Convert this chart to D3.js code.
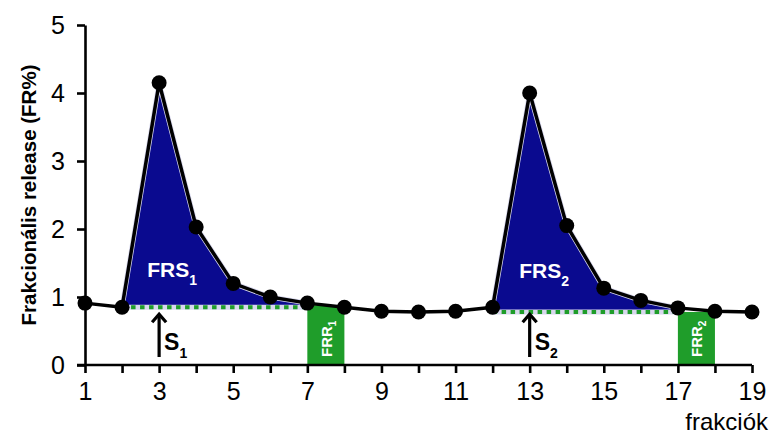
<!DOCTYPE html>
<html>
<head>
<meta charset="utf-8">
<script src="https://cdn.jsdelivr.net/npm/d3@7"></script>
<style>
  html, body { margin: 0; padding: 0; background: #fff; }
  svg { display: block; font-family: "Liberation Sans", Arial, sans-serif; }
</style>
</head>
<body>
<svg id="chart" width="771" height="434"></svg>
<script>
// Fractional release per collected fraction
const fractions = d3.range(1, 20);
const release = [0.91, 0.85, 4.15, 2.03, 1.20, 1.00, 0.91, 0.85, 0.79, 0.78,
                 0.79, 0.85, 4.00, 2.05, 1.13, 0.95, 0.84, 0.79, 0.78];

// Stimulation-evoked release windows (FRS) with their basal levels
const peaks = [
  { label: "FRS", sub: "1", from: 2, to: 7, basal: 0.85, labelAt: 2.68, labelY: 1.3 },
  { label: "FRS", sub: "2", from: 12, to: 17, basal: 0.78, labelAt: 12.72, labelY: 1.28 }
];
// Resting release fractions (FRR)
const resting = [
  { label: "FRR", sub: "1", from: 7, to: 8, level: 0.88 },
  { label: "FRR", sub: "2", from: 17, to: 18, level: 0.78 }
];
// Stimulus markers
const stimuli = [
  { at: 3, label: "S", sub: "1" },
  { at: 13, label: "S", sub: "2" }
];
const yTicks = [0, 1, 2, 3, 4, 5];
const xLabels = [1, 3, 5, 7, 9, 11, 13, 15, 17, 19];

const svg = d3.select("#chart");
const x = d3.scaleLinear().domain([1, 19]).range([85, 752]);
const y = d3.scaleLinear().domain([0, 5]).range([365, 25]);

const blue = "#0a0a8f";
const green = "#1f9d2a";

// FRS areas between the curve and the basal level
peaks.forEach(p => {
  const pts = fractions.map((f, i) => ({ f, v: release[i] }))
    .filter(d => d.f >= p.from && d.f <= p.to);
  const area = d3.area()
    .x(d => x(d.f))
    .y0(y(p.basal))
    .y1(d => y(d.v));
  svg.append("path")
    .datum(pts)
    .attr("d", area)
    .attr("fill", blue)
    .attr("stroke", "#d8d8ee")
    .attr("stroke-width", 5)
    .attr("stroke-linejoin", "round");
});

// FRR bars
resting.forEach(r => {
  svg.append("rect")
    .attr("x", x(r.from))
    .attr("y", y(r.level))
    .attr("width", x(r.to) - x(r.from))
    .attr("height", y(0) - y(r.level))
    .attr("fill", green);
  const cx = (x(r.from) + x(r.to)) / 2;
  const t = svg.append("text")
    .attr("transform", `translate(${cx + 6},${y(0) - 8}) rotate(-90)`)
    .attr("fill", "#fff")
    .attr("font-weight", "bold")
    .attr("font-size", 15);
  t.append("tspan").text(r.label);
  t.append("tspan").attr("font-size", 10).attr("dy", 4).text(r.sub);
});

// Basal level dotted lines
peaks.forEach(p => {
  svg.append("line")
    .attr("x1", x(p.from)).attr("x2", x(p.to))
    .attr("y1", y(p.basal)).attr("y2", y(p.basal))
    .attr("stroke", green)
    .attr("stroke-width", 4)
    .attr("stroke-dasharray", "4.5 4.5");
});

// Axes
const yAxis = d3.axisLeft(y).tickValues(yTicks).tickFormat(d3.format("d"))
  .tickSize(8).tickSizeOuter(0).tickPadding(12);
const gy = svg.append("g").attr("transform", `translate(${x(1)},0)`).call(yAxis);
const xAxis = d3.axisBottom(x).tickValues(fractions).tickSize(8).tickSizeOuter(0).tickPadding(9)
  .tickFormat(d => xLabels.includes(d) ? d : "");
const gx = svg.append("g").attr("transform", `translate(0,${y(0)})`).call(xAxis);
[gx, gy].forEach(g => {
  g.selectAll("path, line").attr("stroke", "#000").attr("stroke-width", 2.6);
  g.selectAll("text").attr("fill", "#000").attr("font-size", 25)
    .attr("font-family", "'Liberation Sans', Arial, sans-serif");
});
gx.select(".domain").attr("d", `M${x(1) - 8},0H${x(19)}`);

// Data line and points
svg.append("path")
  .datum(release)
  .attr("d", d3.line().x((d, i) => x(fractions[i])).y(d => y(d)))
  .attr("fill", "none")
  .attr("stroke", "#000")
  .attr("stroke-width", 3.5)
  .attr("stroke-linejoin", "round");
svg.selectAll("circle.pt")
  .data(release)
  .join("circle")
  .attr("class", "pt")
  .attr("cx", (d, i) => x(fractions[i]))
  .attr("cy", d => y(d))
  .attr("r", 7.5)
  .attr("fill", "#000");

// FRS labels
peaks.forEach(p => {
  const t = svg.append("text")
    .attr("x", x(p.labelAt))
    .attr("y", y(p.labelY))
    .attr("fill", "#fff")
    .attr("font-weight", "bold")
    .attr("font-size", 21);
  t.append("tspan").text(p.label);
  t.append("tspan").attr("font-size", 14).attr("dy", 8).text(p.sub);
});

// Stimulus arrows
const arrowTop = y(0.82) + 4;
stimuli.forEach(s => {
  const ax = x(s.at);
  svg.append("line")
    .attr("x1", ax).attr("x2", ax)
    .attr("y1", y(0) - 8).attr("y2", arrowTop + 2)
    .attr("stroke", "#000").attr("stroke-width", 3.2);
  svg.append("path")
    .attr("d", `M${ax - 7},${arrowTop + 9}L${ax},${arrowTop + 1}L${ax + 7},${arrowTop + 9}`)
    .attr("fill", "none").attr("stroke", "#000").attr("stroke-width", 3.2)
    .attr("stroke-linejoin", "miter");
  const t = svg.append("text")
    .attr("x", ax + 5)
    .attr("y", y(0) - 15)
    .attr("fill", "#000")
    .attr("font-weight", "bold")
    .attr("font-size", 23);
  t.append("tspan").text(s.label);
  t.append("tspan").attr("font-size", 14).attr("dy", 8).text(s.sub);
});

// Axis titles
svg.append("text")
  .attr("transform", `translate(36,${(y(0) + y(5)) / 2}) rotate(-90)`)
  .attr("text-anchor", "middle")
  .attr("font-weight", "bold")
  .attr("font-size", 20.5)
  .attr("fill", "#000")
  .text("Frakcionális release (FR%)");
svg.append("text")
  .attr("x", 768)
  .attr("y", 430)
  .attr("text-anchor", "end")
  .attr("font-size", 24)
  .attr("fill", "#000")
  .text("frakciók");
</script>
</body>
</html>
